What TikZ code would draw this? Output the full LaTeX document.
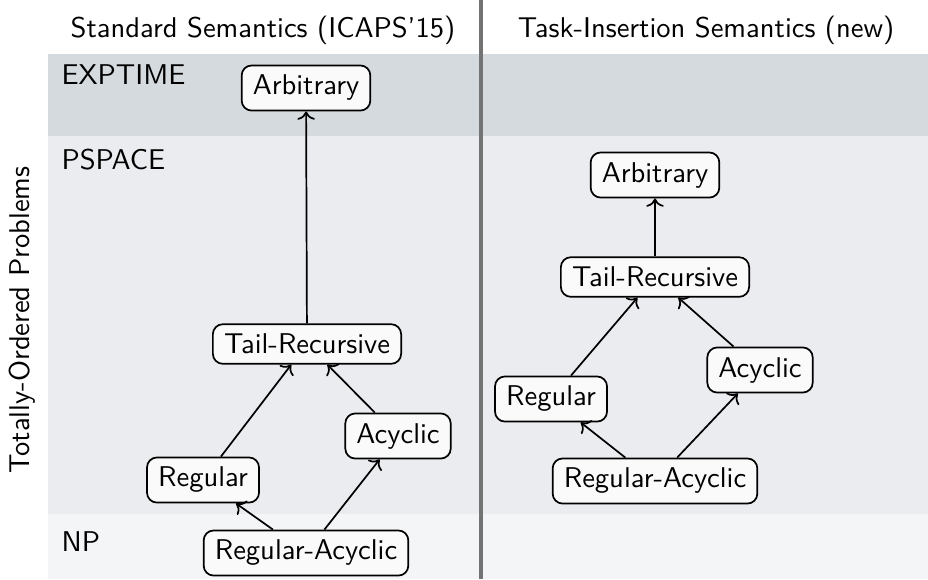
\documentclass[tikz,border=0pt]{standalone}
\usepackage{tikz}
\usetikzlibrary{arrows.meta}
\renewcommand{\familydefault}{\sfdefault}
\definecolor{expband}{RGB}{213,218,223}
\definecolor{pspband}{RGB}{235,236,239}
\definecolor{npband}{RGB}{244,245,247}
\definecolor{clsfill}{RGB}{250,250,250}

\begin{document}
\begin{tikzpicture}[x=0.35pt,y=-0.35pt,
    cls/.style={rounded corners=3.5pt,draw,semithick,fill=clsfill,inner xsep=3.9pt,inner ysep=3.4pt},
    band/.style={anchor=north west,inner sep=0pt},
    sub/.style={semithick,->}]
            \useasboundingbox (0,0) rectangle (928,579);

            % complexity bands
            \fill[expband] (48,54) rectangle (928,136);
            \fill[pspband] (48,136) rectangle (928,514);
            \fill[npband] (48,514) rectangle (928,579);
            \node[band] (exp) at (61,64) {EXPTIME};
            \node[band] (psp) at (61,148) {PSPACE};
            \node[band] (np) at (61,531) {NP};

            \draw[gray!90!black,line width=1.3pt] (481,0) -- (481,579);

            \node (hl) at (263,30) {Standard Semantics (ICAPS'15)};
            \node (hr) at (706,30) {Task-Insertion Semantics (new)};
            \node[rotate=90] (side) at (22,320) {Totally-Ordered Problems};

            % standard semantics
            \node[cls] (sa) at (306,88) {Arbitrary};
            \node[cls] (st) at (307,344) {Tail-Recursive};
            \node[cls] (sr) at (203,480) {Regular};
            \node[cls] (sc) at (398,436) {Acyclic};
            \node[cls] (sra) at (306,553) {Regular-Acyclic};

            % task insertion semantics
            \node[cls] (ta) at (655,175) {Arbitrary};
            \node[cls] (tt) at (655,277) {Tail-Recursive};
            \node[cls] (tr) at (551,399) {Regular};
            \node[cls] (tc) at (760,370) {Acyclic};
            \node[cls] (tra) at (655,481) {Regular-Acyclic};

            \draw[sub] (st) edge (sa)
            (sr) edge (st)
            (sc) edge (st)
            (sra) edge (sr)
            (sra) edge (sc);

            \draw[sub] (tt) edge (ta)
            (tr) edge (tt)
            (tc) edge (tt)
            (tra) edge (tr)
            (tra) edge (tc);
        \end{tikzpicture}
\end{document}
